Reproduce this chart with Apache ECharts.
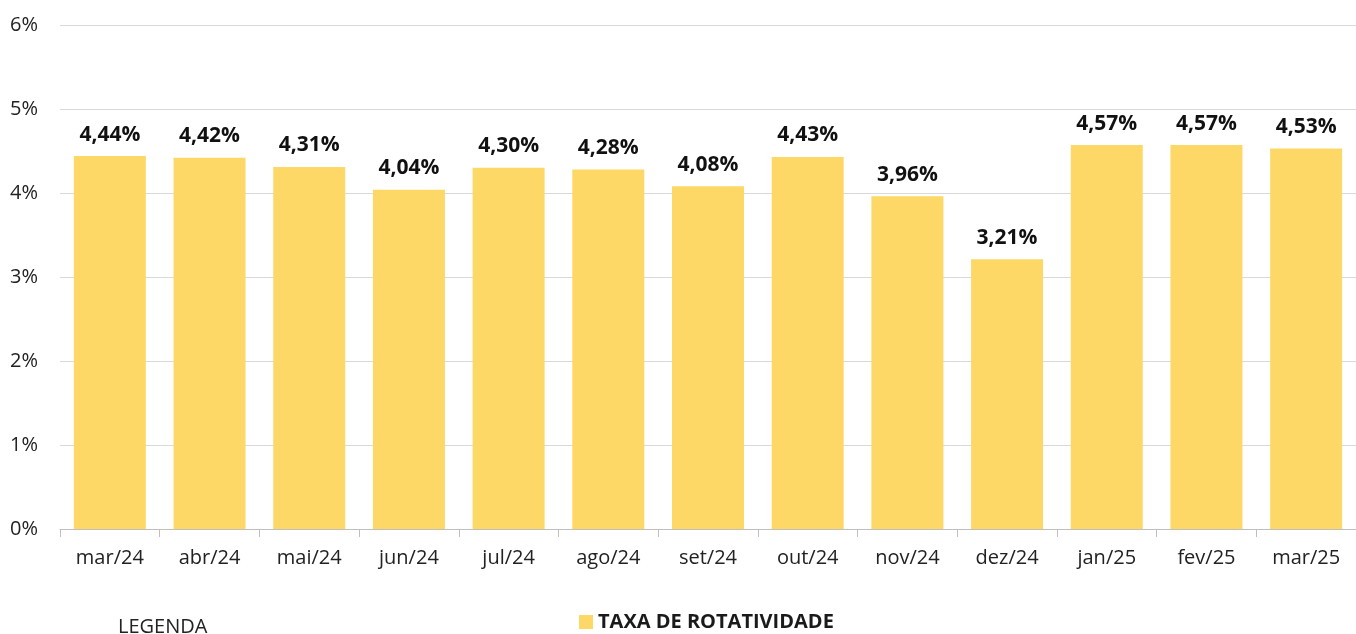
<!DOCTYPE html>
<html lang="pt">
<head>
<meta charset="UTF-8">
<title>Taxa de rotatividade</title>
<script src="https://cdn.jsdelivr.net/npm/echarts@6/dist/echarts.min.js"></script>
<style>
  html, body { margin: 0; padding: 0; background: #fff; }
  #chart { width: 1356px; height: 634px; }
</style>
</head>
<body>
<div id="chart"></div>
<script>
// dados
const meses = ['mar/24', 'abr/24', 'mai/24', 'jun/24', 'jul/24', 'ago/24', 'set/24',
  'out/24', 'nov/24', 'dez/24', 'jan/25', 'fev/25', 'mar/25'];
const taxa = [4.44, 4.42, 4.31, 4.04, 4.30, 4.28, 4.08, 4.43, 3.96, 3.21, 4.57, 4.57, 4.53];
const nomeSerie = 'TAXA DE ROTATIVIDADE';

const fonte = '"Open Sans", sans-serif';
let chart = echarts.init(document.getElementById('chart'));

chart.setOption({
  animation: false,
  textStyle: { fontFamily: fonte },
  grid: { left: 60, right: -4, top: 25, bottom: 105, containLabel: false },
  legend: {
    data: [nomeSerie],
    left: 574, top: 607,
    itemWidth: 14, itemHeight: 14, itemGap: 5,
    icon: 'rect',
    textStyle: { fontSize: 20, fontWeight: 'bold', color: '#1a1a1a', fontFamily: fonte }
  },
  graphic: [{
    type: 'text', left: 118, top: 617,
    style: { text: 'LEGENDA', font: '20px ' + fonte, fill: '#222' }
  }],
  xAxis: {
    type: 'category',
    data: meses,
    axisLine: { lineStyle: { color: '#bfbfbf' } },
    axisTick: { show: true, length: 8, lineStyle: { color: '#bfbfbf' } },
    axisLabel: { color: '#222', fontSize: 20, margin: 19 }
  },
  yAxis: {
    type: 'value',
    min: 0, max: 6, interval: 1,
    axisLabel: { formatter: '{value}%', color: '#222', fontSize: 20, margin: 22 },
    splitLine: { lineStyle: { color: '#d9d9d9' } }
  },
  series: [{
    name: nomeSerie,
    type: 'bar',
    data: taxa,
    barWidth: 72,
    itemStyle: { color: '#fdd867' },
    label: {
      show: true, position: 'top', distance: 11,
      fontSize: 21, fontWeight: 'bold', color: '#111',
      formatter: p => p.value.toFixed(2).replace('.', ',') + '%'
    }
  }]
});
</script>
</body>
</html>
